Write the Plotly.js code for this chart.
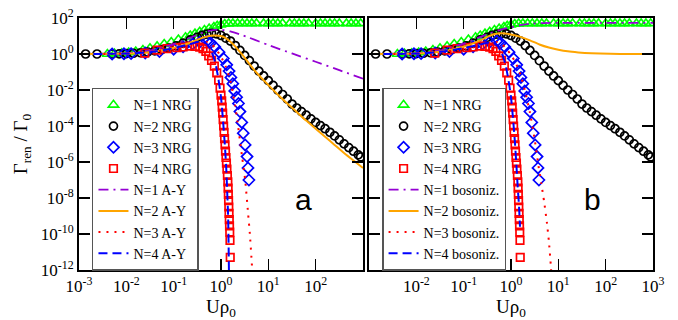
<!DOCTYPE html>
<html><head><meta charset="utf-8">
<script src="https://cdn.plot.ly/plotly-3.0.1.min.js"></script>
<style>html,body{margin:0;padding:0;background:#fff;} #chart{width:678px;height:320px;}</style>
</head><body><div id="chart"></div>
<script>
// ---------- NRG data (shared by both panels) ----------
const uN1nrg = [3.98e-3,5.62e-3,7.94e-3,1.12e-2,1.58e-2,2.24e-2,3.16e-2,4.47e-2,6.31e-2,8.91e-2,0.126,0.178,0.224,0.282,0.355,0.447,0.562,0.708,0.832,1.0,1.20,1.45,1.78,2.24,2.82,3.55,4.47,5.62,7.94,10,12.6,15.8,20.0,28.2,35.5,44.7,56.2,70.8,100,126,158,200,251,316,447,562,708,891];
const gN1nrg = [1,1.05,1.10,1.20,1.38,1.66,2.09,2.69,3.55,4.68,6.31,8.51,10.7,13.5,17.0,21.4,26.3,31.6,37.2,42.7,46.8,49.0,50,50,50,50,50,50,50,50,50,50,50,50,50,50,50,50,50,50,50,50,50,50,50,50,50,50];

const uN2nrg = [1.38e-3,2.4e-3,5.01e-3,7.08e-3,1e-2,1.41e-2,2e-2,2.82e-2,3.98e-2,5.62e-2,7.94e-2,0.112,0.158,0.224,0.316,0.398,0.501,0.631,0.794,1,1.26,1.58,2,2.51,3.16,3.98,5.01,6.31,7.94,10,12.6,15.8,20,25.1,31.6,39.8,50.1,63.1,79.4,100,126,158,200,251,316,398,501,631,794,891];
const gN2nrg = [1,1,1,1.02,1.05,1.10,1.17,1.29,1.48,1.74,2.14,2.82,3.98,6.03,8.51,10.7,12.6,14.1,13.2,10.7,7.59,5.25,2.95,1.58,0.832,0.427,0.214,0.112,0.0603,0.0331,0.0182,0.01,5.62e-3,3.16e-3,1.66e-3,1e-3,6.31e-4,3.98e-4,2.51e-4,1.58e-4,1.05e-4,7.08e-5,4.47e-5,2.82e-5,1.70e-5,1.02e-5,6.31e-6,3.98e-6,2.51e-6,1.91e-6];

const uN3nrg = [5.01e-3,8.91e-3,1.26e-2,2.51e-2,5.01e-2,0.1,0.158,0.251,0.355,0.501,0.603,0.741,0.912,1.12,1.32,1.48,1.62,1.78,1.95,2.14,2.34,2.51,2.75,2.95,3.24,3.55,3.72,3.89];
const gN3nrg = [1,1.02,1.05,1.15,1.38,1.86,2.51,3.55,4.57,5.25,4.17,2.45,1.26,0.562,0.251,0.112,0.0501,0.0224,8.91e-3,3.98e-3,1.78e-3,6.31e-4,1.58e-4,3.98e-5,8.91e-6,2.0e-6,4.68e-7,1e-7];

const uN4nrg = [2.45e-2,4.47e-2,7.24e-2,0.117,0.158,0.219,0.282,0.355,0.417,0.479,0.550,0.631,0.724,0.813,0.891,0.955,1.0,1.035,1.059,1.084,1.109,1.135,1.161,1.189,1.216,1.245,1.274,1.303,1.334,1.365,1.396,1.413,1.429,1.445,1.462,1.479,1.496,1.514,1.531,1.549,1.567];
const gN4nrg = [1.12,1.66,2.0,2.24,2.45,2.75,2.63,2.40,2.0,1.41,0.794,0.447,0.214,8.91e-2,3.55e-2,1.26e-2,5.25e-3,2.51e-3,1.12e-3,5.25e-4,2.24e-4,1e-4,4.47e-5,2.0e-5,8.91e-6,3.98e-6,1.78e-6,8.71e-7,3.98e-7,1.78e-7,7.94e-8,3.55e-8,1.58e-8,7.08e-9,3.16e-9,1.41e-9,6.31e-10,2.82e-10,1.26e-10,4.47e-11,5.01e-12];

// ---------- panel a : A-Y curves ----------
const uN1ay = [1e-3,1e-2,3.16e-2,0.1,0.2,0.355,0.562,0.794,1,1.58,2.51,3.98,10,31.6,100,316,1000];
const gN1ay = [1,1.12,1.58,3.55,7.08,13.2,19.1,22.4,22.4,17.8,12.3,7.94,3.16,1.07,0.372,0.126,0.0427];

const uN2ay = [1e-3,1e-2,3.16e-2,0.1,0.2,0.316,0.501,0.708,1,1.26,1.58,2.0,2.51,3.16,3.98,5.01,6.31,7.94,10,15.8,25.1,39.8,63.1,100,158,251,398,631,1000];
const gN2ay = [1,1.05,1.26,2.14,3.80,6.31,9.33,10.7,10.0,7.59,4.79,2.63,1.32,0.631,0.282,0.132,0.0661,0.0355,0.0191,5.62e-3,1.78e-3,6.03e-4,2.0e-4,7.08e-5,2.51e-5,8.91e-6,3.16e-6,1.20e-6,4.68e-7];

const uN3ay = [1e-3,1e-2,0.1,0.251,0.398,0.501,0.631,0.794,1,1.26,1.58,1.78,2.0,2.24,2.51,2.82,3.24,3.72,4.07,4.47,4.68];
const gN3ay = [1,1.05,1.78,3.16,4.37,4.68,3.55,1.78,0.708,0.2,0.0316,6.76e-3,1.26e-3,1.58e-4,1.58e-5,1.58e-6,1e-7,1.58e-9,1e-10,2.51e-12,3.16e-13];

const uN4ay = [1e-3,1e-2,3.16e-2,0.1,0.2,0.316,0.398,0.501,0.631,0.759,0.871,1,1.096,1.202,1.288,1.349,1.413,1.445,1.479];
const gN4ay = [1,1.05,1.26,2.09,3.31,4.57,5.01,3.55,1.41,0.316,0.0501,3.98e-3,2.51e-4,1e-5,5.01e-7,2.51e-8,1e-9,3.16e-11,3.16e-13];

// ---------- panel b : bosonization curves ----------
const uN1bos = [1e-3,1e-2,3.16e-2,0.1,0.2,0.355,0.631,1,1.58,2.51,5.01,10,100,1000];
const gN1bos = [1,1.12,1.58,3.80,7.94,14.1,22.9,30.2,39.8,47.9,52.5,53.7,53.7,53.7];

const uN2bos = [1e-3,1e-2,3.16e-2,0.1,0.2,0.316,0.417,0.631,1,1.58,2.51,3.98,6.31,10,15.8,26.3,50.1,126,316,1000];
const gN2bos = [1,1.05,1.32,2.51,5.01,8.91,12.0,14.1,12.0,8.91,5.75,3.39,2.29,1.74,1.41,1.23,1.10,1.02,1.0,1.0];

const uN3bos = [1e-3,1e-2,0.1,0.251,0.398,0.501,0.631,0.794,1,1.26,1.58,2.0,2.51,3.16,3.80,4.37,5.01,5.75,6.31,6.92,7.24];
const gN3bos = [1,1.05,1.78,3.16,4.37,4.68,3.63,2.0,0.891,0.316,0.0708,7.94e-3,5.62e-4,1.78e-5,6.31e-7,6.31e-8,6.31e-9,3.98e-10,3.98e-11,2.0e-12,3.16e-13];

const uN4bos = [1e-3,1e-2,3.16e-2,0.1,0.2,0.316,0.398,0.501,0.631,0.759,0.891,1,1.096,1.202,1.288,1.380,1.479,1.549];
const gN4bos = [1,1.05,1.32,2.14,3.16,4.17,4.47,3.16,1.26,0.282,0.0316,3.98e-3,3.16e-4,1.58e-5,1e-6,5.01e-8,3.16e-9,2.51e-10];

// ---------- tick labels ----------
const xTickVals = [1e-3,1e-2,1e-1,1e0,1e1,1e2,1e3];
const xTickTextA = ['10<sup>-3</sup>','10<sup>-2</sup>','10<sup>-1</sup>','10<sup>0</sup>','10<sup>1</sup>','10<sup>2</sup>',''];
const xTickTextB = ['','10<sup>-2</sup>','10<sup>-1</sup>','10<sup>0</sup>','10<sup>1</sup>','10<sup>2</sup>','10<sup>3</sup>'];
const yTickVals = [1e-12,1e-10,1e-8,1e-6,1e-4,1e-2,1e0,1e2];
const yTickText = ['10<sup>-12</sup>','10<sup>-10</sup>','10<sup>-8</sup>','10<sup>-6</sup>','10<sup>-4</sup>','10<sup>-2</sup>','10<sup>0</sup>','10<sup>2</sup>'];

const namesA = ['N=1 NRG','N=2 NRG','N=3 NRG','N=4 NRG','N=1 A-Y','N=2 A-Y','N=3 A-Y','N=4 A-Y'];
const namesB = ['N=1 NRG','N=2 NRG','N=3 NRG','N=4 NRG','N=1 bosoniz.','N=2 bosoniz.','N=3 bosoniz.','N=4 bosoniz.'];

// ---------- styles ----------
const SERIF = 'Liberation Serif';
const SANS = 'Liberation Sans';
const markerStyles = [
  {symbol:'triangle-up-open', size:9, color:'#00ff00', line:{width:1.6}},
  {symbol:'circle-open', size:8, color:'#000000', line:{width:1.7}},
  {symbol:'diamond-open', size:8.5, color:'#0000ff', line:{width:1.7}},
  {symbol:'square-open', size:7.5, color:'#ff0000', line:{width:1.7}}
];
const lineStyles = [
  {color:'#9400d3', width:1.8, dash:'10px,5px,2px,5px', shape:'spline', smoothing:0.6},
  {color:'#ffa500', width:2, dash:'solid', shape:'spline', smoothing:0.6},
  {color:'#ff0000', width:2, dash:'2px,6px', shape:'spline', smoothing:0.6},
  {color:'#0000ff', width:2, dash:'9px,5px', shape:'spline', smoothing:0.6}
];

const nrgU = [uN1nrg,uN2nrg,uN3nrg,uN4nrg];
const nrgG = [gN1nrg,gN2nrg,gN3nrg,gN4nrg];
const ayU = [uN1ay,uN2ay,uN3ay,uN4ay];
const ayG = [gN1ay,gN2ay,gN3ay,gN4ay];
const bosU = [uN1bos,uN2bos,uN3bos,uN4bos];
const bosG = [gN1bos,gN2bos,gN3bos,gN4bos];

const traces = [];
function addPanel(xa, ya, leg, names, lu, lg) {
  for (let i = 0; i < 4; i++) {
    traces.push({type:'scatter', mode:'markers', x:nrgU[i], y:nrgG[i], xaxis:xa, yaxis:ya,
      name:names[i], legend:leg, legendrank:i+1, marker:markerStyles[i]});
  }
  for (let i = 0; i < 4; i++) {
    traces.push({type:'scatter', mode:'lines', x:lu[i], y:lg[i], xaxis:xa, yaxis:ya,
      name:names[i+4], legend:leg, legendrank:i+5, line:lineStyles[i]});
  }
}
addPanel('x','y','legend',namesA,ayU,ayG);
addPanel('x2','y2','legend2',namesB,bosU,bosG);

const axBase = {type:'log', range:[-3,3], showline:true, linecolor:'#000', linewidth:2, mirror:'ticks',
  ticks:'inside', ticklen:11, tickwidth:1.5, tickcolor:'#000', showgrid:false, zeroline:false,
  tickfont:{family:SERIF, size:17, color:'#000'}};
const yBase = Object.assign({}, axBase, {range:[-12,2], tickvals:yTickVals, ticktext:yTickText, domain:[0,1]});

const legBase = {bgcolor:'#ffffff', bordercolor:'#555555', borderwidth:1.5,
  font:{family:SERIF, size:14, color:'#000'}, xanchor:'left', yanchor:'middle', tracegroupgap:0, itemwidth:30};

const layout = {
  width:678, height:320, margin:{l:79, r:25, t:18, b:50},
  paper_bgcolor:'#fff', plot_bgcolor:'#fff', font:{family:SERIF, color:'#000'},
  xaxis: Object.assign({}, axBase, {domain:[0,0.49477], anchor:'y', tickvals:xTickVals, ticktext:xTickTextA,
    title:{text:'Uρ<sub>0</sub>', font:{family:SERIF, size:19}, standoff:3}}),
  xaxis2: Object.assign({}, axBase, {domain:[0.50523,1], anchor:'y2', tickvals:xTickVals, ticktext:xTickTextB,
    title:{text:'Uρ<sub>0</sub>', font:{family:SERIF, size:19}, standoff:3}}),
  yaxis: Object.assign({}, yBase, {anchor:'x', title:{text:'Γ<sub>ren</sub> / Γ<sub>0</sub>', font:{family:SERIF, size:19}, standoff:8}}),
  yaxis2: Object.assign({}, yBase, {anchor:'x2', showticklabels:false}),
  legend: Object.assign({}, legBase, {x:0.0226, y:0.36}),
  legend2: Object.assign({}, legBase, {x:0.528, y:0.36}),
  annotations:[
    {xref:'x domain', yref:'y domain', x:0.827, y:0.206, text:'a', showarrow:false,
     font:{family:SANS, size:30, color:'#000'}},
    {xref:'x2 domain', yref:'y2 domain', x:0.824, y:0.206, text:'b', showarrow:false,
     font:{family:SANS, size:30, color:'#000'}}
  ],
  showlegend:true
};

Plotly.newPlot('chart', traces, layout, {staticPlot:true, displayModeBar:false});
</script>
</body></html>
